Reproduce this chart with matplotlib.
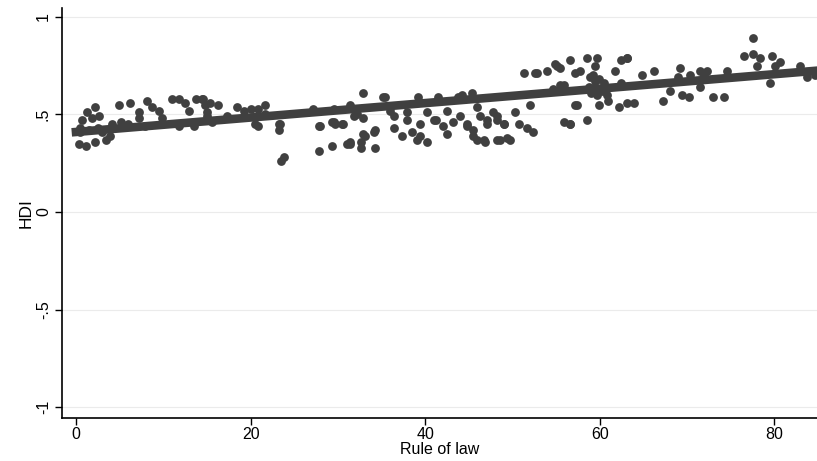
import numpy as np
import matplotlib
matplotlib.use('Agg')
import matplotlib.pyplot as plt

plt.rcParams['font.family'] = ['Liberation Sans Narrow', 'Liberation Sans', 'DejaVu Sans']

# Rule of law (x) vs HDI (y)

rule_of_law = [
    2.2, 1.3, 0.7, 0.5, 0.3, 1.1, 2.2, 3.4, 3.9, 2.6, 1.8, 4.9, 6.2, 7.2, 7.2, 8.1,
    8.7, 9.5, 9.9, 11.0, 11.8, 12.5, 12.9, 13.7, 14.4, 14.8, 13.5, 11.8, 7.9, 6.0,
    5.1, 4.1, 0.5, 1.5, 2.5, 3.0,
    14.6, 15.4, 16.3, 15.0, 15.6, 18.4, 19.2, 20.0, 20.9, 21.7, 21.7, 20.9, 20.5,
    23.2, 23.2, 23.8, 23.5, 27.8, 29.3, 29.7, 30.6, 27.8, 29.3, 31.0, 27.2, 29.5,
    15.0, 17.3,
    23.4, 27.9, 29.5, 30.5, 31.4, 32.9, 32.6, 32.7, 33.1, 34.3, 34.3, 32.2, 32.9,
    31.4, 35.4, 36.4, 36.4, 37.3, 38.5, 39.1, 40.2, 39.2, 39.4, 37.9, 40.2, 41.0,
    41.5, 42.1, 42.5, 43.2, 44.2, 45.4, 44.0, 44.8, 45.5, 45.9, 46.9, 46.3, 47.1,
    47.8, 48.2, 48.6, 49.7, 49.0, 50.3, 50.7, 51.7, 52.4, 52.0, 51.3, 52.8, 54.0,
    55.1, 55.9, 55.9, 57.2, 57.2, 56.6,
    35.2, 43.8, 31.4, 32.9, 34.1, 39.4, 41.3, 42.5, 44.8, 45.5, 46.7, 45.9, 36.0,
    37.9, 31.8,
    52.6, 54.9, 55.5, 56.6, 57.8, 58.5, 59.7, 59.5, 62.4, 63.1, 61.8, 58.9, 59.5,
    60.1, 60.8, 59.7, 55.5, 54.7, 57.4, 59.9, 61.0, 62.2, 63.1, 48.2, 49.0, 47.1,
    56.6, 58.5, 49.4, 48.2,
    59.2, 59.5, 59.9, 60.3, 59.0, 60.5, 58.8,
    77.6, 63.1, 76.5, 77.6, 78.4, 79.7, 80.7, 78.0, 80.1, 83.0, 83.8, 84.5, 84.7,
    79.5, 66.2, 64.8, 69.2, 69.0, 70.4, 71.5, 72.3, 71.9, 74.6, 71.5, 68.1, 67.3,
    69.4, 70.2, 73.0, 74.2, 63.9, 62.4,
]

hdi = [
    0.54, 0.51, 0.47, 0.43, 0.35, 0.34, 0.36, 0.37, 0.39, 0.49, 0.48, 0.55, 0.56, 0.51, 0.48, 0.57,
    0.54, 0.52, 0.48, 0.58, 0.58, 0.56, 0.52, 0.58, 0.58, 0.55, 0.44, 0.44, 0.44, 0.45,
    0.46, 0.45, 0.41, 0.42, 0.43, 0.41,
    0.58, 0.56, 0.55, 0.51, 0.46, 0.54, 0.52, 0.53, 0.53, 0.55, 0.50, 0.44, 0.45,
    0.45, 0.42, 0.28, 0.26, 0.44, 0.46, 0.45, 0.45, 0.31, 0.34, 0.35, 0.53, 0.53,
    0.49, 0.49,
    0.45, 0.44, 0.46, 0.45, 0.35, 0.61, 0.36, 0.33, 0.39, 0.42, 0.33, 0.50, 0.48,
    0.55, 0.59, 0.43, 0.49, 0.39, 0.41, 0.37, 0.36, 0.59, 0.45, 0.47, 0.51, 0.47,
    0.59, 0.44, 0.52, 0.46, 0.60, 0.61, 0.49, 0.44, 0.42, 0.37, 0.36, 0.49, 0.45,
    0.51, 0.47, 0.37, 0.37, 0.45, 0.51, 0.45, 0.43, 0.41, 0.55, 0.71, 0.71, 0.72,
    0.75, 0.65, 0.46, 0.55, 0.71, 0.45,
    0.59, 0.59, 0.36, 0.40, 0.41, 0.39, 0.47, 0.40, 0.45, 0.39, 0.37, 0.54, 0.52,
    0.51, 0.49,
    0.71, 0.76, 0.74, 0.78, 0.72, 0.79, 0.79, 0.75, 0.78, 0.79, 0.72, 0.69, 0.67,
    0.63, 0.60, 0.60, 0.65, 0.63, 0.55, 0.55, 0.57, 0.54, 0.56, 0.49, 0.45, 0.47,
    0.45, 0.47, 0.38, 0.37,
    0.70, 0.64, 0.68, 0.62, 0.61, 0.66, 0.64,
    0.89, 0.79, 0.80, 0.81, 0.79, 0.80, 0.77, 0.75, 0.75, 0.75, 0.69, 0.72, 0.70,
    0.66, 0.72, 0.70, 0.74, 0.69, 0.70, 0.72, 0.72, 0.70, 0.72, 0.64, 0.62, 0.57,
    0.60, 0.59, 0.59, 0.59, 0.56, 0.66,
]

# fitted line as drawn in the reference (intercept, slope)
fit_intercept = 0.41
fit_slope = 0.0037

x_ticks = [0, 20, 40, 60, 80]
y_ticks = [-1, -0.5, 0, 0.5, 1]
y_tick_labels = ['-1', '-.5', '0', '.5', '1']

x = np.array(rule_of_law)
y = np.array(hdi)

fit_x = np.array([-0.5, 85])
fit_y = fit_intercept + fit_slope * fit_x

dark = '#404040'

fig = plt.figure(figsize=(8.17, 4.61), dpi=100)
ax = fig.add_axes([0.076, 0.093, 0.924, 0.89])

ax.scatter(x, y, s=40, color=dark, linewidths=0, zorder=2)
ax.plot(fit_x, fit_y, color=dark, linewidth=6.2, solid_capstyle='butt', zorder=3)

ax.set_xlim(-1.6, 84.9)
ax.set_ylim(-1.056, 1.046)

ax.set_xticks(x_ticks)
ax.set_yticks(y_ticks)
ax.set_yticklabels(y_tick_labels, rotation=90, va='center')
ax.tick_params(axis='both', labelsize=11.5, length=5, width=1, color='black', pad=3)
ax.tick_params(axis='x', pad=1.5)

ax.grid(axis='y', color='#ebebeb', linewidth=0.8, zorder=0)
ax.set_axisbelow(True)

for side in ['top', 'right']:
    ax.spines[side].set_visible(False)
ax.spines['left'].set_linewidth(1.2)
ax.spines['bottom'].set_linewidth(1.2)

ax.set_xlabel('Rule of law', fontsize=11.5, labelpad=0)
ax.set_ylabel('HDI', fontsize=12.5, labelpad=2)

fig.savefig('out.png', dpi=100)
